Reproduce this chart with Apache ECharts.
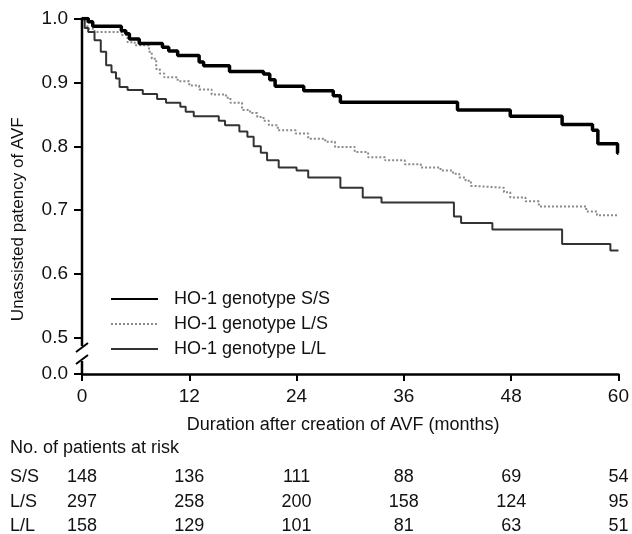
<!DOCTYPE html>
<html>
<head>
<meta charset="utf-8">
<script src="https://cdn.jsdelivr.net/npm/echarts@6/dist/echarts.min.js"></script>
<style>
html,body{margin:0;padding:0;background:#fff;}
#chart{width:632px;height:534px;}
</style>
</head>
<body>
<div id="chart"></div>
<script>
// ---- data ----
const seriesNames = ['HO-1 genotype S/S', 'HO-1 genotype L/S', 'HO-1 genotype L/L'];
const ssTime = [0,0.7,1.2,4.4,4.9,5.3,6.4,9.0,9.7,10.7,13.1,13.6,16.5,20.3,21.0,21.6,24.8,28.1,28.9,42.0,47.9,53.7,57.1,57.7,59.9,60];
const ssSurv = [1.0,0.995,0.988,0.981,0.976,0.968,0.961,0.955,0.949,0.942,0.932,0.926,0.917,0.913,0.904,0.894,0.887,0.879,0.869,0.857,0.847,0.834,0.825,0.804,0.789,0.789];
const lsTime = [0,0.6,1.4,4.4,5.1,5.9,7.5,7.8,8.3,8.7,9.2,10.7,12.0,13.1,14.5,16.1,16.6,17.9,18.8,19.6,20.3,20.9,21.9,23.9,25.3,27.2,28.3,30.5,32.0,33.9,36.1,37.9,40.1,41.5,42.2,42.9,43.5,44.0,47.2,47.9,49.6,51.1,56.4,57.6,60];
const lsSurv = [1.0,0.984,0.979,0.974,0.963,0.958,0.948,0.937,0.921,0.914,0.908,0.902,0.895,0.889,0.881,0.876,0.868,0.857,0.852,0.846,0.840,0.833,0.825,0.820,0.812,0.807,0.799,0.791,0.783,0.778,0.772,0.767,0.762,0.757,0.751,0.746,0.738,0.735,0.728,0.720,0.714,0.706,0.698,0.692,0.692];
const llTime = [0,0.3,0.7,1.4,2.1,2.7,3.3,3.8,4.2,5.1,6.8,8.4,9.4,11.0,11.6,12.5,15.3,16.0,17.6,18.5,19.2,20.0,20.7,22.0,24.0,25.3,28.9,31.4,33.5,41.6,42.4,45.9,53.7,59.1,60];
const llSurv = [1.0,0.985,0.979,0.966,0.948,0.927,0.916,0.906,0.893,0.888,0.882,0.874,0.868,0.862,0.854,0.847,0.840,0.833,0.823,0.815,0.800,0.790,0.778,0.767,0.762,0.751,0.735,0.720,0.712,0.690,0.680,0.670,0.647,0.637,0.637];

const xTicks = [0, 12, 24, 36, 48, 60];
const yTickLabels = ['0.0', '0.5', '0.6', '0.7', '0.8', '0.9', '1.0'];
const riskTitle = 'No. of patients at risk';
const riskGroups = ['S/S', 'L/S', 'L/L'];
const riskSS = [148, 136, 111, 88, 69, 54];
const riskLS = [297, 258, 200, 158, 124, 95];
const riskLL = [158, 129, 101, 81, 63, 51];
const xAxisTitle = 'Duration after creation of AVF (months)';
const yAxisTitle = 'Unassisted patency of AVF';

// broken axis: 0.0 drawn at this axis position
const ZERO_POS = 0.4437;
const yTickPositions = [ZERO_POS, 0.5, 0.6, 0.7, 0.8, 0.9, 1.0];

const zip = (t, s) => t.map((v, i) => [v, s[i]]);
const FONT = '"Liberation Sans", Arial, Helvetica, sans-serif';
const TXT = '#111';

const chart = echarts.init(document.getElementById('chart'), null, {renderer: 'canvas'});

const option = {
  animation: false,
  backgroundColor: '#fff',
  grid: {left: 82, right: 10, top: 18.5, bottom: 160},
  xAxis: {
    type: 'value', min: 0, max: 60, interval: 12,
    axisLine: {show: true, lineStyle: {color: '#000', width: 2.5}},
    axisTick: {show: true, length: 7, lineStyle: {color: '#000', width: 2}},
    axisLabel: {margin: 13, fontSize: 19, color: TXT, fontFamily: FONT},
    splitLine: {show: false},
    name: xAxisTitle, nameLocation: 'middle', nameGap: 42,
    nameTextStyle: {fontSize: 18, color: TXT, fontFamily: FONT, padding: [0, 14, 0, 0]}
  },
  yAxis: {
    type: 'value', min: ZERO_POS, max: 1.0,
    axisLine: {show: false},
    axisTick: {show: true, inside: false, length: 8, customValues: yTickPositions, lineStyle: {color: '#000', width: 2}},
    axisLabel: {
      margin: 14, fontSize: 19, color: TXT, fontFamily: FONT,
      customValues: yTickPositions,
      formatter: function (v) {
        const i = yTickPositions.findIndex(p => Math.abs(p - v) < 1e-6);
        return i >= 0 ? yTickLabels[i] : '';
      }
    },
    splitLine: {show: false}
  },
  legend: {
    orient: 'vertical', left: 105, top: 285,
    itemWidth: 47, itemHeight: 18, itemGap: 7,
    itemStyle: {opacity: 0},
    textStyle: {fontSize: 18, color: TXT, fontFamily: FONT, padding: [0, 0, 0, 11]},
    data: seriesNames
  },
  series: [
    {name: seriesNames[0], type: 'line', step: 'end', symbol: 'none', data: zip(ssTime, ssSurv),
     lineStyle: {color: '#000', width: 3.5}, itemStyle: {color: '#000'}, z: 4},
    {name: seriesNames[1], type: 'line', step: 'end', symbol: 'none', data: zip(lsTime, lsSurv),
     lineStyle: {color: '#8a8a8a', width: 2, type: [2, 2]}, itemStyle: {color: '#8a8a8a'}, z: 3},
    {name: seriesNames[2], type: 'line', step: 'end', symbol: 'none', data: zip(llTime, llSurv),
     lineStyle: {color: '#333', width: 2}, itemStyle: {color: '#333'}, z: 3}
  ]
};
chart.setOption(option);

// decorations: broken y axis line and risk table, positioned via the axes
const x0 = chart.convertToPixel({xAxisIndex: 0}, 0);
const yTop = chart.convertToPixel({yAxisIndex: 0}, 1.0);
const yHalf = chart.convertToPixel({yAxisIndex: 0}, 0.5);
const yZero = chart.convertToPixel({yAxisIndex: 0}, ZERO_POS);
const gapTop = yHalf + 8;
const gapBot = yHalf + 23;
const axisStyle = {stroke: '#000', lineWidth: 2.5};
const graphics = [
  {type: 'line', shape: {x1: x0, y1: yTop - 1, x2: x0, y2: gapTop}, style: axisStyle, z: 10},
  {type: 'line', shape: {x1: x0, y1: gapBot, x2: x0, y2: yZero + 1}, style: axisStyle, z: 10},
  {type: 'line', shape: {x1: x0 - 6, y1: gapTop + 6, x2: x0 + 6, y2: gapTop - 3}, style: {stroke: '#000', lineWidth: 2}, z: 10},
  {type: 'line', shape: {x1: x0 - 6, y1: gapBot + 3, x2: x0 + 6, y2: gapBot - 6}, style: {stroke: '#000', lineWidth: 2}, z: 10},
  {type: 'text', x: 18, y: (yTop + yZero) / 2 + 23, rotation: Math.PI / 2,
   style: {text: yAxisTitle, fontSize: 17, fill: TXT, fontFamily: FONT, textAlign: 'center', textVerticalAlign: 'middle'}},
  {type: 'text', x: 10, y: 448, style: {text: riskTitle, fontSize: 18, fill: TXT, fontFamily: FONT, textAlign: 'left', textVerticalAlign: 'middle'}}
];
const riskRows = [riskSS, riskLS, riskLL];
const rowY = [477, 502, 526];
riskRows.forEach((row, r) => {
  graphics.push({type: 'text', x: 10, y: rowY[r],
    style: {text: riskGroups[r], fontSize: 18, fill: TXT, fontFamily: FONT, textAlign: 'left', textVerticalAlign: 'middle'}});
  row.forEach((n, i) => {
    const px = chart.convertToPixel({xAxisIndex: 0}, xTicks[i]);
    graphics.push({type: 'text', x: px, y: rowY[r],
      style: {text: String(n), fontSize: 18, fill: TXT, fontFamily: FONT, textAlign: 'center', textVerticalAlign: 'middle'}});
  });
});
chart.setOption({graphic: graphics});
</script>
</body>
</html>
